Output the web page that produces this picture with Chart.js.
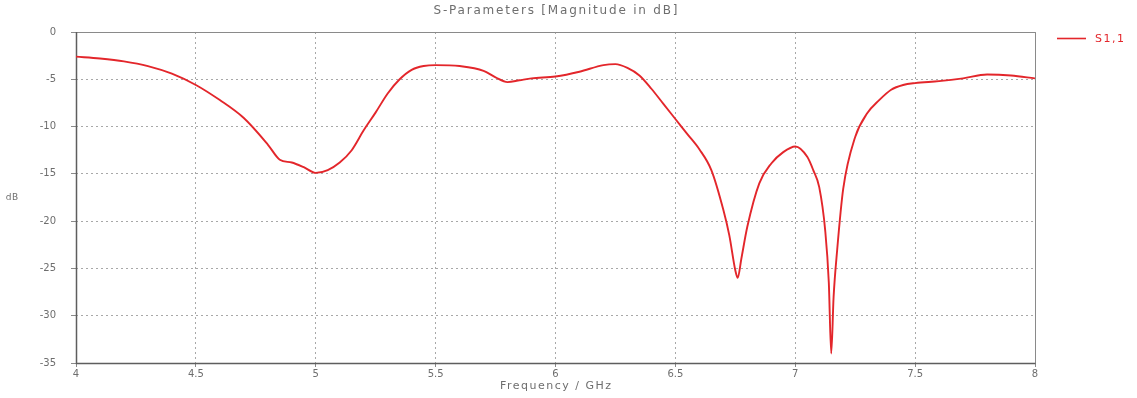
<!DOCTYPE html>
<html>
<head>
<meta charset="utf-8">
<title>S-Parameters</title>
<script src="https://cdn.jsdelivr.net/npm/chart.js@4.4.1/dist/chart.umd.min.js"></script>
<style>
  html, body { margin: 0; padding: 0; background: #ffffff; }
  #wrap { width: 1137px; height: 398px; position: relative; }
</style>
</head>
<body>
<div id="wrap"><canvas id="chart"></canvas></div>
<script>
// Frequency sweep (GHz) and reflection magnitude S1,1 (dB)
const freqGHz = [
  4.0, 4.1, 4.2, 4.3, 4.4, 4.5, 4.6, 4.7, 4.8, 4.85, 4.9, 4.95,
  5.0, 5.05, 5.1, 5.15, 5.2, 5.25, 5.3, 5.35, 5.4, 5.45, 5.5, 5.6,
  5.7, 5.75, 5.8, 5.85, 5.9, 6.0, 6.1, 6.2, 6.25, 6.3, 6.35, 6.4,
  6.45, 6.5, 6.55, 6.6, 6.65, 6.7, 6.725, 6.75, 6.76, 6.775, 6.8, 6.85,
  6.9, 6.95, 7.0, 7.05, 7.075, 7.1, 7.125, 7.14, 7.15, 7.16, 7.175, 7.2,
  7.25, 7.3, 7.35, 7.4, 7.45, 7.5, 7.6, 7.7, 7.8, 7.9, 8.0
];
const s11dB = [
  -2.6, -2.8, -3.1, -3.6, -4.4, -5.6, -7.2, -9.1, -11.9, -13.5, -13.8, -14.3,
  -14.9, -14.6, -13.8, -12.5, -10.4, -8.5, -6.5, -5.0, -4.0, -3.6, -3.5, -3.6,
  -4.1, -4.8, -5.3, -5.1, -4.9, -4.7, -4.2, -3.5, -3.4, -3.8, -4.6, -6.0,
  -7.6, -9.2, -10.8, -12.4, -14.6, -18.8, -21.5, -25.2, -26.0, -24.0, -20.6, -16.0,
  -13.9, -12.7, -12.1, -13.2, -14.6, -16.4, -21.0, -26.5, -34.0, -28.0, -23.0, -16.6,
  -11.1, -8.6, -7.2, -6.1, -5.6, -5.4, -5.2, -4.9, -4.5, -4.6, -4.9
];
const seriesName = 'S1,1';
const chartTitle = 'S-Parameters [Magnitude in dB]';
const xAxisTitle = 'Frequency / GHz';
const yAxisTitle = 'dB';
const xTicks = [4, 4.5, 5, 5.5, 6, 6.5, 7, 7.5, 8];
const yTicks = [0, -5, -10, -15, -20, -25, -30, -35];

const LINE_RED = '#e3262b';
const TEXT_GREY = '#6e6e6e';
const FONT = 'DejaVu Sans';

function spacedText(ctx, text, x, y, spacing) {
  if ('letterSpacing' in ctx) {
    ctx.letterSpacing = spacing + 'px';
    ctx.fillText(text, x + (ctx.textAlign === 'center' ? spacing / 2 : 0), y);
    ctx.letterSpacing = '0px';
  } else {
    ctx.fillText(text, x, y);
  }
}

// Solid axis lines and frame, drawn under the curve
const frame = {
  id: 'frame',
  beforeDatasetsDraw(chart) {
    const { ctx, chartArea: a } = chart;
    ctx.save();
    ctx.setLineDash([]);
    ctx.strokeStyle = '#8a8a8a';
    ctx.lineWidth = 1;
    ctx.beginPath();
    ctx.moveTo(a.left, a.top + 0.5);
    ctx.lineTo(a.right + 0.5, a.top + 0.5);
    ctx.lineTo(a.right + 0.5, a.bottom);
    ctx.stroke();
    ctx.strokeStyle = '#5e5e5e';
    ctx.lineWidth = 1.5;
    ctx.beginPath();
    ctx.moveTo(a.left + 0.5, a.top);
    ctx.lineTo(a.left + 0.5, a.bottom + 0.5);
    ctx.lineTo(a.right + 0.5, a.bottom + 0.5);
    ctx.stroke();
    ctx.restore();
  }
};

// Titles and the legend drawn around the plot area
const decorations = {
  id: 'decorations',
  afterDraw(chart) {
    const { ctx, chartArea: a } = chart;
    const midX = (a.left + a.right) / 2;
    ctx.save();
    ctx.fillStyle = TEXT_GREY;
    ctx.textAlign = 'center';
    ctx.textBaseline = 'middle';
    ctx.font = '12px "' + FONT + '"';
    spacedText(ctx, chartTitle, midX, 11, 1.8);

    ctx.font = '11px "' + FONT + '"';
    spacedText(ctx, xAxisTitle, midX, 386, 1.5);

    ctx.font = '9px "' + FONT + '"';
    spacedText(ctx, yAxisTitle, 12, (a.top + a.bottom) / 2, 0.5);

    // legend entry
    const ds = chart.data.datasets[0];
    ctx.strokeStyle = ds.borderColor;
    ctx.lineWidth = 1.6;
    ctx.beginPath();
    ctx.moveTo(1057, 38.5);
    ctx.lineTo(1086, 38.5);
    ctx.stroke();
    ctx.fillStyle = LINE_RED;
    ctx.font = '11px "' + FONT + '"';
    ctx.textAlign = 'left';
    spacedText(ctx, ds.label, 1095, 39, 1.5);
    ctx.restore();
  }
};

const gridStyle = {
  color: '#a8a8a8',
  lineWidth: 1,
  tickColor: '#8a8a8a',
  tickBorderDash: []
};

new Chart(document.getElementById('chart'), {
  type: 'line',
  data: {
    datasets: [{
      label: seriesName,
      data: freqGHz.map((f, i) => ({ x: f, y: s11dB[i] })),
      borderColor: LINE_RED,
      borderWidth: 1.9,
      pointRadius: 0,
      cubicInterpolationMode: 'monotone',
      fill: false
    }]
  },
  options: {
    responsive: true,
    maintainAspectRatio: false,
    animation: false,
    events: [],
    layout: { padding: { top: 32, right: 102, left: 0, bottom: 0 } },
    plugins: {
      legend: { display: false },
      title: { display: false },
      tooltip: { enabled: false }
    },
    scales: {
      x: {
        type: 'linear',
        min: 4,
        max: 8,
        afterBuildTicks: (s) => { s.ticks = xTicks.map(v => ({ value: v })); },
        afterFit: (s) => { s.height = 35; },
        ticks: {
          color: TEXT_GREY,
          font: { family: FONT, size: 10 },
          padding: 1,
          maxRotation: 0,
          callback: (v) => String(v)
        },
        grid: Object.assign({ tickLength: 4 }, gridStyle),
        border: { display: false, dash: [2, 3] }
      },
      y: {
        type: 'linear',
        min: -35,
        max: 0,
        afterBuildTicks: (s) => { s.ticks = yTicks.map(v => ({ value: v })); },
        afterFit: (s) => { s.width = 76; },
        ticks: {
          color: TEXT_GREY,
          font: { family: FONT, size: 10 },
          padding: 15
        },
        grid: Object.assign({ tickLength: 5 }, gridStyle),
        border: { display: false, dash: [2, 3] }
      }
    }
  },
  plugins: [frame, decorations]
});
</script>
</body>
</html>
